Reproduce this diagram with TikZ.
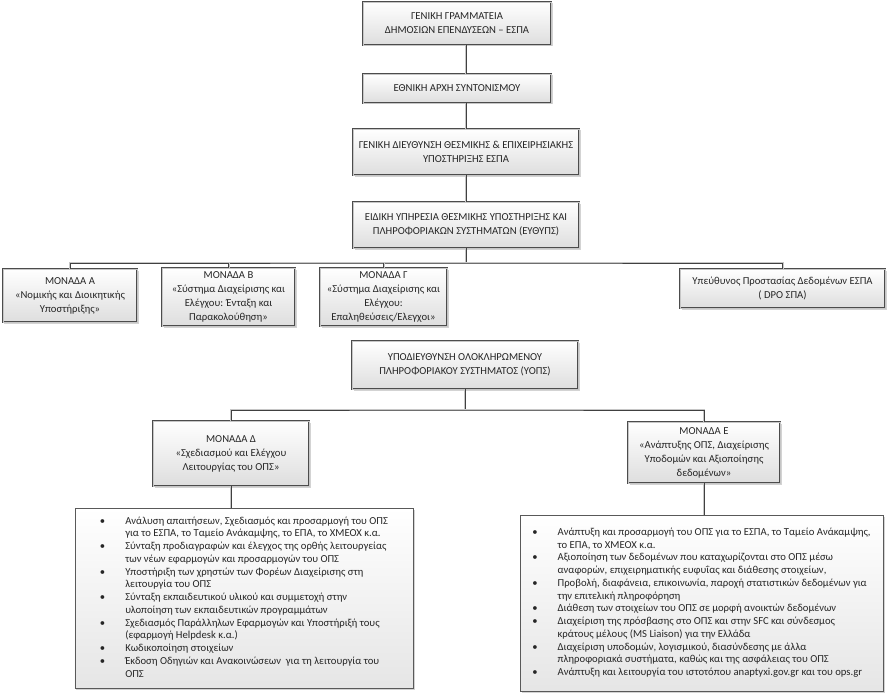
\documentclass[tikz,border=0pt]{standalone}
\usepackage{fontspec}
\setmainfont{Carlito}
\usetikzlibrary{shadows}
\begin{document}
\begin{tikzpicture}[x=1bp,y=-1bp,
  every node/.style={text=black!85},
  box/.style={draw=black!70, double=gray!45, double distance=0.8bp, line width=0.5bp,
    top color=white, bottom color=black!13, align=center,
    font=\fontsize{10.7}{14}\selectfont, inner sep=2bp,
    drop shadow={shadow xshift=1.5bp, shadow yshift=-1.5bp, opacity=0.35}},
  listbox/.style={draw=black!65, line width=0.7bp,
    top color=white, bottom color=black!10, inner sep=0pt,
    font=\fontsize{10.7}{12.8}\selectfont,
    drop shadow={shadow xshift=1.5bp, shadow yshift=-1.5bp, opacity=0.35}},
  conn/.style={draw=black!75, line width=0.7bp, preaction={draw=gray!45, line width=2bp}}
]
\useasboundingbox (0,0) rectangle (889,695);

% top column
\node[box, minimum width=188bp, minimum height=43bp] (gg) at (457,23.5)
  {ΓΕΝΙΚΗ ΓΡΑΜΜΑΤΕΙΑ\\ΔΗΜΟΣΙΩΝ ΕΠΕΝΔΥΣΕΩΝ – ΕΣΠΑ};
\node[box, minimum width=188bp, minimum height=29bp] (en) at (457,88.5)
  {ΕΘΝΙΚΗ ΑΡΧΗ ΣΥΝΤΟΝΙΣΜΟΥ};
\node[box, minimum width=226bp, minimum height=46bp] (gd) at (466,152)
  {ΓΕΝΙΚΗ ΔΙΕΥΘΥΝΣΗ ΘΕΣΜΙΚΗΣ \& ΕΠΙΧΕΙΡΗΣΙΑΚΗΣ\\ΥΠΟΣΤΗΡΙΞΗΣ ΕΣΠΑ};
\node[box, minimum width=226bp, minimum height=46bp] (ed) at (466,225)
  {ΕΙΔΙΚΗ ΥΠΗΡΕΣΙΑ ΘΕΣΜΙΚΗΣ ΥΠΟΣΤΗΡΙΞΗΣ ΚΑΙ\\ΠΛΗΡΟΦΟΡΙΑΚΩΝ ΣΥΣΤΗΜΑΤΩΝ (ΕΥΘΥΠΣ)};

% units row
\node[box, minimum width=134bp, minimum height=53bp] (ma) at (70,295.5)
  {ΜΟΝΑΔΑ Α\\«Νομικής και Διοικητικής\\Υποστήριξης»};
\node[box, minimum width=133bp, minimum height=58bp] (mb) at (228.5,297)
  {ΜΟΝΑΔΑ Β\\«Σύστημα Διαχείρισης και\\Ελέγχου: Ένταξη και\\Παρακολούθηση»};
\node[box, minimum width=127bp, minimum height=58bp] (mc) at (383.5,297)
  {ΜΟΝΑΔΑ Γ\\«Σύστημα Διαχείρισης και\\Ελέγχου:\\Επαληθεύσεις/Ελεγχοι»};
\node[box, minimum width=205bp, minimum height=39bp] (dpo) at (782.5,288.5)
  {Υπεύθυνος Προστασίας Δεδομένων ΕΣΠΑ\\( DPO ΣΠΑ)};

% sub-directorate
\node[box, minimum width=226bp, minimum height=48bp] (yops) at (465,365)
  {ΥΠΟΔΙΕΥΘΥΝΣΗ ΟΛΟΚΛΗΡΩΜΕΝΟΥ\\ΠΛΗΡΟΦΟΡΙΑΚΟΥ ΣΥΣΤΗΜΑΤΟΣ (ΥΟΠΣ)};
\node[box, minimum width=156bp, minimum height=65bp] (md) at (231,453.5)
  {ΜΟΝΑΔΑ Δ\\«Σχεδιασμού και Ελέγχου\\Λειτουργίας του ΟΠΣ»};
\node[box, minimum width=152bp, minimum height=61bp] (me) at (704,452.5)
  {ΜΟΝΑΔΑ Ε\\«Ανάπτυξης ΟΠΣ, Διαχείρισης\\Υποδομών και Αξιοποίησης\\δεδομένων»};

% lists
\node[listbox, minimum width=338bp, minimum height=180bp] (ll) at (244,598)
  {\begin{tabular}{@{}l@{\hspace{20bp}}l@{}}
  • & Ανάλυση απαιτήσεων, Σχεδιασμός και προσαρμογή του ΟΠΣ\\
    & για το ΕΣΠΑ, το Ταμείο Ανάκαμψης, το ΕΠΑ, το ΧΜΕΟΧ κ.α.\\
  • & Σύνταξη προδιαγραφών και έλεγχος της ορθής λειτουργείας\\
    & των νέων εφαρμογών και προσαρμογών του ΟΠΣ\\
  • & Υποστήριξη των χρηστών των Φορέων Διαχείρισης στη\\
    & λειτουργία του ΟΠΣ\\
  • & Σύνταξη εκπαιδευτικού υλικού και συμμετοχή στην\\
    & υλοποίηση των εκπαιδευτικών προγραμμάτων\\
  • & Σχεδιασμός Παράλληλων Εφαρμογών και Υποστήριξή τους\\
    & (εφαρμογή Helpdesk κ.α.)\\
  • & Κωδικοποίηση στοιχείων\\
  • & Έκδοση Οδηγιών και Ανακοινώσεων\ \ για τη λειτουργία του\\
    & ΟΠΣ
  \end{tabular}};
\node[listbox, minimum width=363bp, minimum height=176bp] (lr) at (701.5,603)
  {\begin{tabular}{@{}l@{\hspace{20bp}}l@{}}
  • & Ανάπτυξη και προσαρμογή του ΟΠΣ για το ΕΣΠΑ, το Ταμείο Ανάκαμψης,\\
    & το ΕΠΑ, το ΧΜΕΟΧ κ.α.\\
  • & Αξιοποίηση των δεδομένων που καταχωρίζονται στο ΟΠΣ μέσω\\
    & αναφορών, επιχειρηματικής ευφυΐας και διάθεσης στοιχείων,\\
  • & Προβολή, διαφάνεια, επικοινωνία, παροχή στατιστικών δεδομένων για\\
    & την επιτελική πληροφόρηση\\
  • & Διάθεση των στοιχείων του ΟΠΣ σε μορφή ανοικτών δεδομένων\\
  • & Διαχείριση της πρόσβασης στο ΟΠΣ και στην SFC και σύνδεσμος\\
    & κράτους μέλους (MS Liaison) για την Ελλάδα\\
  • & Διαχείριση υποδομών, λογισμικού, διασύνδεσης με άλλα\\
    & πληροφοριακά συστήματα, καθώς και της ασφάλειας του ΟΠΣ\\
  • & Ανάπτυξη και λειτουργία του ιστοτόπου anaptyxi.gov.gr και του ops.gr
  \end{tabular}};

% connectors
\coordinate (bus1) at (466,263);
\coordinate (bus2) at (465,410);
\draw[conn] (gg.south -| ed.north) -- (en.north -| ed.north);
\draw[conn] (en.south -| ed.north) -- (gd.north);
\draw[conn] (gd.south) -- (ed.north);
\draw[conn] (ed.south) -- (bus1);
\draw[conn] (ma.north) |- (bus1) -| (dpo.north);
\draw[conn] (mb.north) -- (mb.north |- bus1);
\draw[conn] (mc.north) -- (mc.north |- bus1);
\draw[conn] (yops.south) -- (bus2);
\draw[conn] (md.north) |- (bus2) -| (me.north);
\draw[conn] (md.south) -- (md.south |- ll.north);
\draw[conn] (me.south) -- (me.south |- lr.north);
\end{tikzpicture}
\end{document}
